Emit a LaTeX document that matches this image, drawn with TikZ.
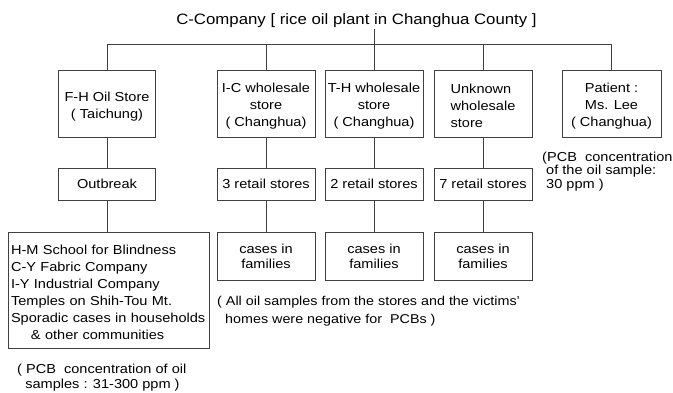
\documentclass[tikz,border=0pt]{standalone}
\usepackage{fontspec}
\setmainfont{Liberation Sans}[FakeStretch=1.12]
\newcommand{\dnstrut}{\rule{0pt}{15pt}}
\begin{document}
\begin{tikzpicture}[x=1pt,y=-1pt,
  txt/.style={font=\fontsize{13}{17}\selectfont},
  box/.style={txt, draw=black!75, line width=0.6pt, align=center, inner sep=0pt, minimum width=98pt},
  bigrow/.style={box, minimum height=67pt},
  midrow/.style={box, minimum height=32pt},
  lowrow/.style={box, minimum height=48pt, font=\fontsize{13}{15}\selectfont},
  note/.style={txt, align=left, inner sep=0pt, anchor=north west},
  link/.style={draw=black!75, line width=0.6pt}]
\useasboundingbox (0,0) rectangle (673,392);

\node[font=\fontsize{15}{17}\selectfont, inner sep=1pt] (title) at (356.5,21) {C-Company\ [\ rice\ oil\ plant\ in\ Changhua\ County\ ]};

\node[bigrow, minimum width=97pt] (fh) at (107,103.5) {\dnstrut F-H Oil Store\\( Taichung)};
\node[bigrow] (ic) at (266,103.5) {\dnstrut I-C wholesale\\store\\( Changhua)};
\node[bigrow] (th) at (374,103.5) {\dnstrut T-H wholesale\\store\\( Changhua)};
\node[bigrow, align=left] (uk) at (483,103.5) {\dnstrut Unknown\\wholesale\\store};
\node[bigrow, minimum width=99pt] (pat) at (611.5,103.5) {\dnstrut Patient :\\Ms. Lee\\( Changhua)};

\node[midrow, minimum width=97pt] (ob) at (107,184) {Outbreak};
\node[midrow] (r3) at (266,184) {3 retail stores};
\node[midrow] (r2) at (374,184) {2 retail stores};
\node[midrow] (r7) at (483,184) {7 retail stores};

\node[box, minimum width=201pt, minimum height=116pt, text width=195pt, align=left] (big) at (108.5,290)
  {\dnstrut H-M School for Blindness\\C-Y Fabric Company\\I-Y Industrial Company\\Temples on Shih-Tou Mt.\\Sporadic cases in households\\\hspace*{20pt}\& other communities};
\node[lowrow] (c1) at (266,256) {cases in\\families};
\node[lowrow] (c2) at (374,256) {cases in\\families};
\node[lowrow] (c3) at (483,256) {cases in\\families};

\node[note, font=\fontsize{13}{13.5}\selectfont] (n1) at (542,151.5) {(PCB\ \ concentration\\\ of the oil sample:\\\ 30 ppm )};
\node[note, font=\fontsize{12.8}{18}\selectfont] (n2) at (217,296) {( All oil samples from the stores and the victims'\\\ \ homes were negative for\ \ PCBs )};
\node[note, font=\fontsize{13}{15}\selectfont] (n3) at (17,364) {( PCB\ \ concentration of oil\\\ \ samples : 31-300 ppm )};

\coordinate (bus) at (0,44);
\draw[link] (fh.north) |- (bus -| pat.north) -- (pat.north);
\draw[link] (ic.north) -- (ic.north |- bus);
\draw[link] (uk.north) -- (uk.north |- bus);
\draw[link] (title.south -| th.north) -- (th.north);
\draw[link] (fh) -- (ob);
\draw[link] (ob) -- (big.north -| ob);
\draw[link] (ic) -- (r3);
\draw[link] (th) -- (r2);
\draw[link] (uk) -- (r7);
\draw[link] (r3) -- (c1);
\draw[link] (r2) -- (c2);
\draw[link] (r7) -- (c3);
\end{tikzpicture}
\end{document}
